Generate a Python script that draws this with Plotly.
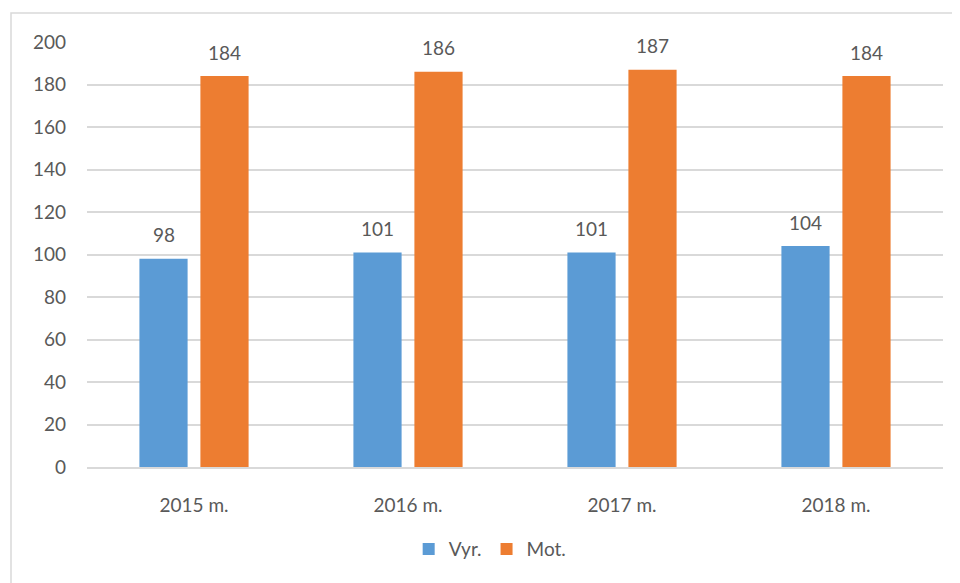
import plotly.graph_objects as go

categories = ["2015 m.", "2016 m.", "2017 m.", "2018 m."]
vyr = [98, 101, 101, 104]
mot = [184, 186, 187, 184]
y_ticks = [0, 20, 40, 60, 80, 100, 120, 140, 160, 180, 200]

BLUE = "#5B9BD5"
ORANGE = "#ED7D31"
TXT = "#595959"
GRID = "#D9D9D9"
FONT = "Lato"
FS = 19

fig = go.Figure()
fig.add_trace(go.Bar(name="Vyr.", x=categories, y=vyr, marker_color=BLUE,
                     marker_line_width=0))
fig.add_trace(go.Bar(name="Mot.", x=categories, y=mot, marker_color=ORANGE,
                     marker_line_width=0))

for series, shift in ((vyr, -30.5), (mot, 30.5)):
    for c, v in zip(categories, series):
        fig.add_annotation(x=c, y=v, text=str(v), showarrow=False,
                           xshift=shift, yshift=24, yanchor="middle",
                           font=dict(family=FONT, size=FS, color=TXT))

# chart border (like Excel chart area)
fig.add_shape(type="rect", xref="paper", yref="paper",
              x0=(11 - 87) / 856, x1=1.2, y0=-0.6, y1=(467 - 13) / 425,
              line=dict(color=GRID, width=1.5), fillcolor="rgba(0,0,0,0)",
              layer="below")

fig.update_layout(
    width=960, height=583,
    margin=dict(l=79, r=25, t=34, b=124),
    paper_bgcolor="white", plot_bgcolor="white",
    barmode="group", bargap=0.43, bargroupgap=0.21,
    font=dict(family=FONT, size=FS, color=TXT),
    showlegend=True,
    legend=dict(orientation="h", x=0.471, xanchor="center", y=-0.193,
                yanchor="middle", font=dict(family=FONT, size=FS, color=TXT),
                itemwidth=30, traceorder="normal"),
    xaxis=dict(showgrid=False, showline=True, linecolor=GRID, linewidth=1.5,
               ticks="", ticklabelstandoff=20, tickfont=dict(size=FS, color=TXT)),
    yaxis=dict(range=[0, 200], tickvals=y_ticks, showgrid=True,
               gridcolor=GRID, gridwidth=1.5, zeroline=False, showline=False,
               ticks="", ticklabelstandoff=20, tickfont=dict(size=FS, color=TXT)),
)

fig.write_html("out.html")
